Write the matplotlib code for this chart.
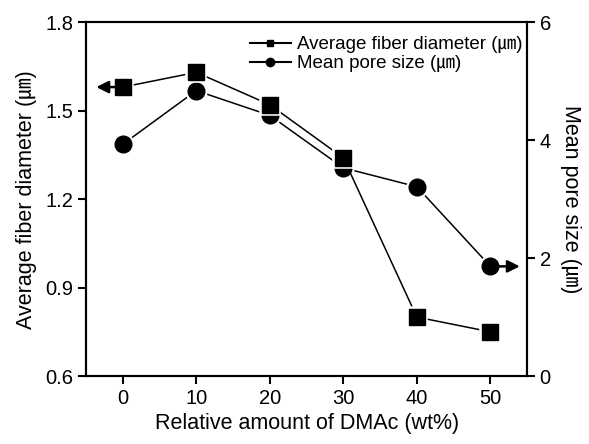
import matplotlib
matplotlib.use('Agg')
import matplotlib.pyplot as plt
from matplotlib.lines import Line2D

plt.rcParams['font.family'] = ['Liberation Sans', 'Noto Sans CJK KR', 'DejaVu Sans']

# Data
dmac = [0, 10, 20, 30, 40, 50]
fiber_diameter = [1.58, 1.63, 1.52, 1.34, 0.80, 0.75]
pore_size = [3.93, 4.84, 4.42, 3.53, 3.21, 1.86]

fig = plt.figure(figsize=(5.89, 4.44), dpi=100, facecolor='white')
ax = fig.add_axes([0.146, 0.153, 0.749, 0.797])
ax2 = ax.twinx()
ax.set_zorder(ax2.get_zorder() + 1)
ax.patch.set_visible(False)

lw = 1.1
# lines
ax.plot(dmac, fiber_diameter, color='black', lw=lw, zorder=1)
ax2.plot(dmac, pore_size, color='black', lw=lw, zorder=1)
# white halos so the lines stop short of the markers
ax.plot(dmac, fiber_diameter, ls='none', marker='s', ms=11.5, mfc='white',
        mec='white', mew=4, zorder=2)
ax2.plot(dmac, pore_size, ls='none', marker='o', ms=12, mfc='white',
         mec='white', mew=4, zorder=2)
# markers
ax2.plot(dmac, pore_size, ls='none', marker='o', ms=12, color='black', zorder=3)
ax.plot(dmac, fiber_diameter, ls='none', marker='s', ms=11.5, color='black', zorder=3)

# arrows pointing at the matching axis
ax.annotate('', xy=(-3.6, fiber_diameter[0]), xytext=(dmac[0] - 0.8, fiber_diameter[0]),
            arrowprops=dict(arrowstyle='-|>', color='black', lw=1.8, mutation_scale=18,
                            shrinkA=0, shrinkB=0))
ax2.annotate('', xy=(54.0, pore_size[-1]), xytext=(dmac[-1] + 0.8, pore_size[-1]),
             arrowprops=dict(arrowstyle='-|>', color='black', lw=1.8, mutation_scale=18,
                             shrinkA=0, shrinkB=0))

ax.set_xlim(-5, 55)
ax.set_ylim(0.6, 1.8)
ax2.set_ylim(0, 6)
ax.set_xticks([0, 10, 20, 30, 40, 50])
ax.set_yticks([0.6, 0.9, 1.2, 1.5, 1.8])
ax2.set_yticks([0, 2, 4, 6])

for a in (ax, ax2):
    for s in a.spines.values():
        s.set_linewidth(1.5)
    a.tick_params(direction='out', length=6, width=1.5, labelsize=14.5, pad=3)

ax.set_xlabel('Relative amount of DMAc (wt%)', fontsize=15.5, labelpad=4)
ax.set_ylabel('Average fiber diameter (㎛)', fontsize=15.5, labelpad=6)
ax2.set_ylabel('Mean pore size (㎛)', fontsize=15.5, rotation=270, labelpad=22)

handles = [
    Line2D([], [], color='black', lw=1.5, marker='s', ms=5),
    Line2D([], [], color='black', lw=1.5, marker='o', ms=6),
]
ax.legend(handles, ['Average fiber diameter (㎛)', 'Mean pore size (㎛)'],
          loc='upper right', frameon=False, fontsize=13.5, handlelength=2.2,
          handletextpad=0.3, labelspacing=0.1, borderaxespad=0.15,
          bbox_to_anchor=(1.012, 0.99))

fig.savefig('out.png', dpi=100)
